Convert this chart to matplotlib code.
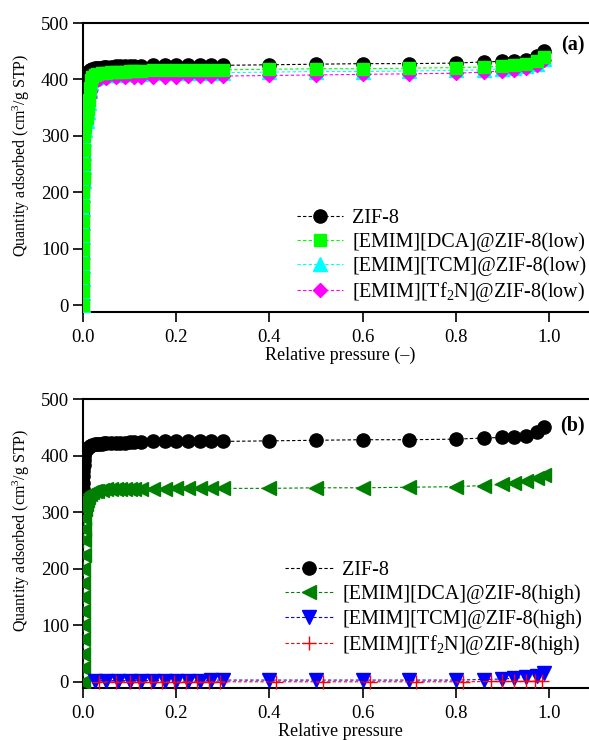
import matplotlib
matplotlib.use("Agg")
import matplotlib.pyplot as plt

plt.rcParams['font.family'] = ['Liberation Serif', 'DejaVu Serif']
plt.rcParams['mathtext.fontset'] = 'custom'
plt.rcParams['mathtext.rm'] = 'Liberation Serif'
plt.rcParams['mathtext.it'] = 'Liberation Serif:italic'

# ---- data: relative pressure / quantity adsorbed (cm3/g STP) ----
p_zif = [0.0002, 0.0004, 0.0006, 0.0008, 0.001, 0.0015, 0.002, 0.003, 0.005, 0.007, 0.01,
         0.015, 0.02, 0.025, 0.03, 0.035, 0.04, 0.045, 0.05, 0.06, 0.07, 0.08, 0.09, 0.1,
         0.11, 0.125, 0.15, 0.175, 0.2, 0.225, 0.25, 0.275, 0.3, 0.4, 0.5, 0.6, 0.7, 0.8,
         0.86, 0.9, 0.925, 0.95, 0.975, 0.99]
q_zif = [327, 340, 352, 363, 373, 383, 392, 400, 407, 411, 414,
         417, 419, 420, 420, 421, 421, 422, 422, 422, 423, 423, 423, 424,
         424, 424, 425, 425, 425, 425, 425, 425, 425, 426, 427, 428, 428, 429,
         431, 432, 433, 435, 441, 450]

# panel (a) - low loading
p_dca_low = [0.0002, 0.0003, 0.0004, 0.0005, 0.0006, 0.0007, 0.0008, 0.0009, 0.001, 0.0012,
             0.0015, 0.002, 0.003, 0.005, 0.008, 0.01, 0.012, 0.015, 0.017, 0.02, 0.025, 0.03,
             0.04, 0.05, 0.06, 0.07, 0.08, 0.09, 0.1, 0.11, 0.125, 0.15, 0.175, 0.2, 0.225,
             0.25, 0.275, 0.3, 0.4, 0.5, 0.6, 0.7, 0.8, 0.86, 0.9, 0.925, 0.95, 0.975, 0.99]
q_dca_low = [0, 25, 50, 75, 100, 125, 150, 175, 200, 225,
             250, 275, 300, 315, 331, 348, 363, 385, 399, 405, 408, 410,
             411, 412, 413, 413, 414, 414, 415, 415, 415, 416, 416, 416, 416,
             417, 417, 417, 418, 419, 419, 420, 421, 422, 424, 425, 427, 432, 440]
q_tcm_low = [0, 22, 46, 70, 95, 120, 145, 170, 195, 220,
             245, 270, 295, 310, 326, 343, 358, 380, 394, 400, 403, 405,
             406, 407, 408, 408, 409, 409, 410, 410, 410, 411, 411, 411, 411,
             412, 412, 412, 413, 414, 414, 415, 416, 417, 419, 421, 423, 428, 437]

p_tf2n_low = [0.005, 0.013, 0.015, 0.02, 0.03, 0.035, 0.05, 0.07, 0.09, 0.11, 0.125, 0.15,
              0.175, 0.2, 0.225, 0.25, 0.275, 0.3, 0.4, 0.5, 0.6, 0.7, 0.8, 0.86, 0.9,
              0.925, 0.95, 0.975, 0.99]
q_tf2n_low = [0, 0, 320, 340, 370, 400, 403, 404, 404, 405, 405, 405,
              405, 405, 406, 406, 406, 406, 407, 408, 409, 410, 411, 413, 415,
              417, 420, 425, 434]

# panel (b) - high loading
p_dca_high = [0.0002, 0.0003, 0.0004, 0.0005, 0.0006, 0.0007, 0.0008, 0.0009, 0.001, 0.0012,
              0.0015, 0.002, 0.003, 0.004, 0.006, 0.008, 0.01, 0.015, 0.02, 0.025, 0.03,
              0.04, 0.05, 0.06, 0.07, 0.08, 0.09, 0.1, 0.11, 0.125, 0.15, 0.175, 0.2, 0.225,
              0.25, 0.275, 0.3, 0.4, 0.5, 0.6, 0.7, 0.8, 0.86, 0.9, 0.925, 0.95, 0.975, 0.99]
q_dca_high = [0, 25, 50, 75, 100, 125, 150, 175, 200, 225,
              250, 270, 290, 305, 315, 322, 327, 332, 335, 337, 338,
              339, 340, 340, 340, 341, 341, 341, 341, 341, 341, 341, 342, 342,
              342, 342, 342, 342, 343, 343, 344, 345, 347, 349, 352, 355, 360, 366]

p_tcm_high = [0.025, 0.05, 0.075, 0.1, 0.125, 0.15, 0.175, 0.2, 0.225, 0.25, 0.275, 0.3,
              0.4, 0.5, 0.6, 0.7, 0.8, 0.86, 0.9, 0.925, 0.95, 0.975, 0.99]
q_tcm_high = [2, 2, 2, 2, 2, 2, 2, 2, 2, 2, 3, 3,
              3, 3, 3, 3, 3, 4, 5, 6, 8, 11, 16]

p_tf2n_high = [0.035, 0.07, 0.1, 0.12, 0.145, 0.17, 0.195, 0.22, 0.245, 0.27, 0.295,
               0.415, 0.515, 0.615, 0.715, 0.815, 0.875, 0.9, 0.925, 0.95, 0.97, 0.985]
q_tf2n_high = [0, 0, 0, 0, 0, 0, 0, 0, 0, 0, 0,
               0, 0, 0, 0, 0, 0.5, 0.5, 0.5, 1, 1, 1]

xticks = [0.0, 0.2, 0.4, 0.6, 0.8, 1.0]
yticks = [0, 100, 200, 300, 400, 500]

W, H = 589, 740
fig = plt.figure(figsize=(W / 100, H / 100), dpi=100)


def axes_px(left, top, right, bottom):
    return fig.add_axes([left / W, 1 - bottom / H, (right - left) / W, (bottom - top) / H])


def style(ax, ybot, xlab, ylab_y):
    ax.set_xlim(0, (W - 83) / 466)
    ax.set_ylim(ybot, 500)
    ax.set_xticks(xticks)
    ax.set_xticklabels(['%.1f' % v for v in xticks])
    ax.set_yticks(yticks)
    ax.tick_params(direction='out', length=7, width=1.2, labelsize=13.5)
    ax.tick_params(axis='x', pad=5)
    ax.tick_params(axis='y', pad=3)
    for s in ['left', 'bottom', 'top']:
        ax.spines[s].set_linewidth(1.5)
    ax.spines['right'].set_visible(False)
    ax.set_xlabel(xlab, fontsize=13)
    ax.xaxis.set_label_coords((340 - 83) / (W - 83), -0.12)
    ax.set_ylabel('Quantity adsorbed (cm$^3$/g STP)', fontsize=11.5)
    ax.yaxis.set_label_coords((32 - 83) / (W - 83), ylab_y)


line_kw = dict(linestyle='--', dashes=(3, 2), linewidth=0.8)

# ---- panel (a) ----
ax1 = axes_px(83, 23, W, 312)
ax1.plot(p_zif, q_zif, color='black', marker='o', ms=9.5, mec='black', label='ZIF-8',
         zorder=2, **line_kw)
ax1.plot(p_dca_low, q_tcm_low, color='#00FFFF', marker='^', ms=10, mec='#00FFFF', zorder=3,
         label='[EMIM][TCM]@ZIF-8(low)', **line_kw)
ax1.plot(p_tf2n_low, q_tf2n_low, color='#FF00FF', marker='D', ms=7.5, mec='#FF00FF', zorder=3,
         markevery=slice(5, None), label='[EMIM][Tf$_2$N]@ZIF-8(low)', **line_kw)
ax1.plot(p_dca_low, q_dca_low, color='#00FF00', marker='s', ms=9, mec='#00FF00', zorder=4,
         label='[EMIM][DCA]@ZIF-8(low)', **line_kw)
style(ax1, -12, 'Relative pressure (–)', (312 - 155) / 289)
h, l = ax1.get_legend_handles_labels()
order = [0, 3, 1, 2]
ax1.legend([h[i] for i in order], [l[i] for i in order], loc='upper left',
           bbox_to_anchor=(297 / W, 1 - 209 / H), bbox_transform=fig.transFigure,
           frameon=False, fontsize=14.5, handlelength=2.3, handletextpad=0.45,
           labelspacing=0.2, borderpad=0, borderaxespad=0)
fig.text(573 / W, 1 - 45 / H, '(a)', fontsize=14.5, fontweight='bold', ha='center', va='center')

# ---- panel (b) ----
ax2 = axes_px(83, 399, W, 688)
ax2.plot(p_zif, q_zif, color='black', marker='o', ms=9.5, mec='black', label='ZIF-8',
         zorder=2, **line_kw)
ax2.plot(p_dca_high, q_dca_high, color='#008000', marker='<', ms=10, mec='#008000', zorder=3,
         label='[EMIM][DCA]@ZIF-8(high)', **line_kw)
ax2.plot(p_tcm_high, q_tcm_high, color='#0000FF', marker='v', ms=10, mec='#0000FF', zorder=3,
         label='[EMIM][TCM]@ZIF-8(high)', **line_kw)
ax2.plot(p_tf2n_high, q_tf2n_high, color='#FF0000', marker='+', ms=10, mew=1.0, zorder=4,
         clip_on=False, label='[EMIM][Tf$_2$N]@ZIF-8(high)', **line_kw)
style(ax2, -11, 'Relative pressure', (688 - 530) / 289)
ax2.legend(loc='upper left', bbox_to_anchor=(285 / W, 1 - 561 / H),
           bbox_transform=fig.transFigure, frameon=False, fontsize=14.5, handlelength=2.4,
           handletextpad=0.45, labelspacing=0.23, borderpad=0, borderaxespad=0)
fig.text(572 / W, 1 - 425 / H, '(b)', fontsize=14.5, fontweight='bold', ha='center', va='center')

fig.savefig('out.png', dpi=100)
